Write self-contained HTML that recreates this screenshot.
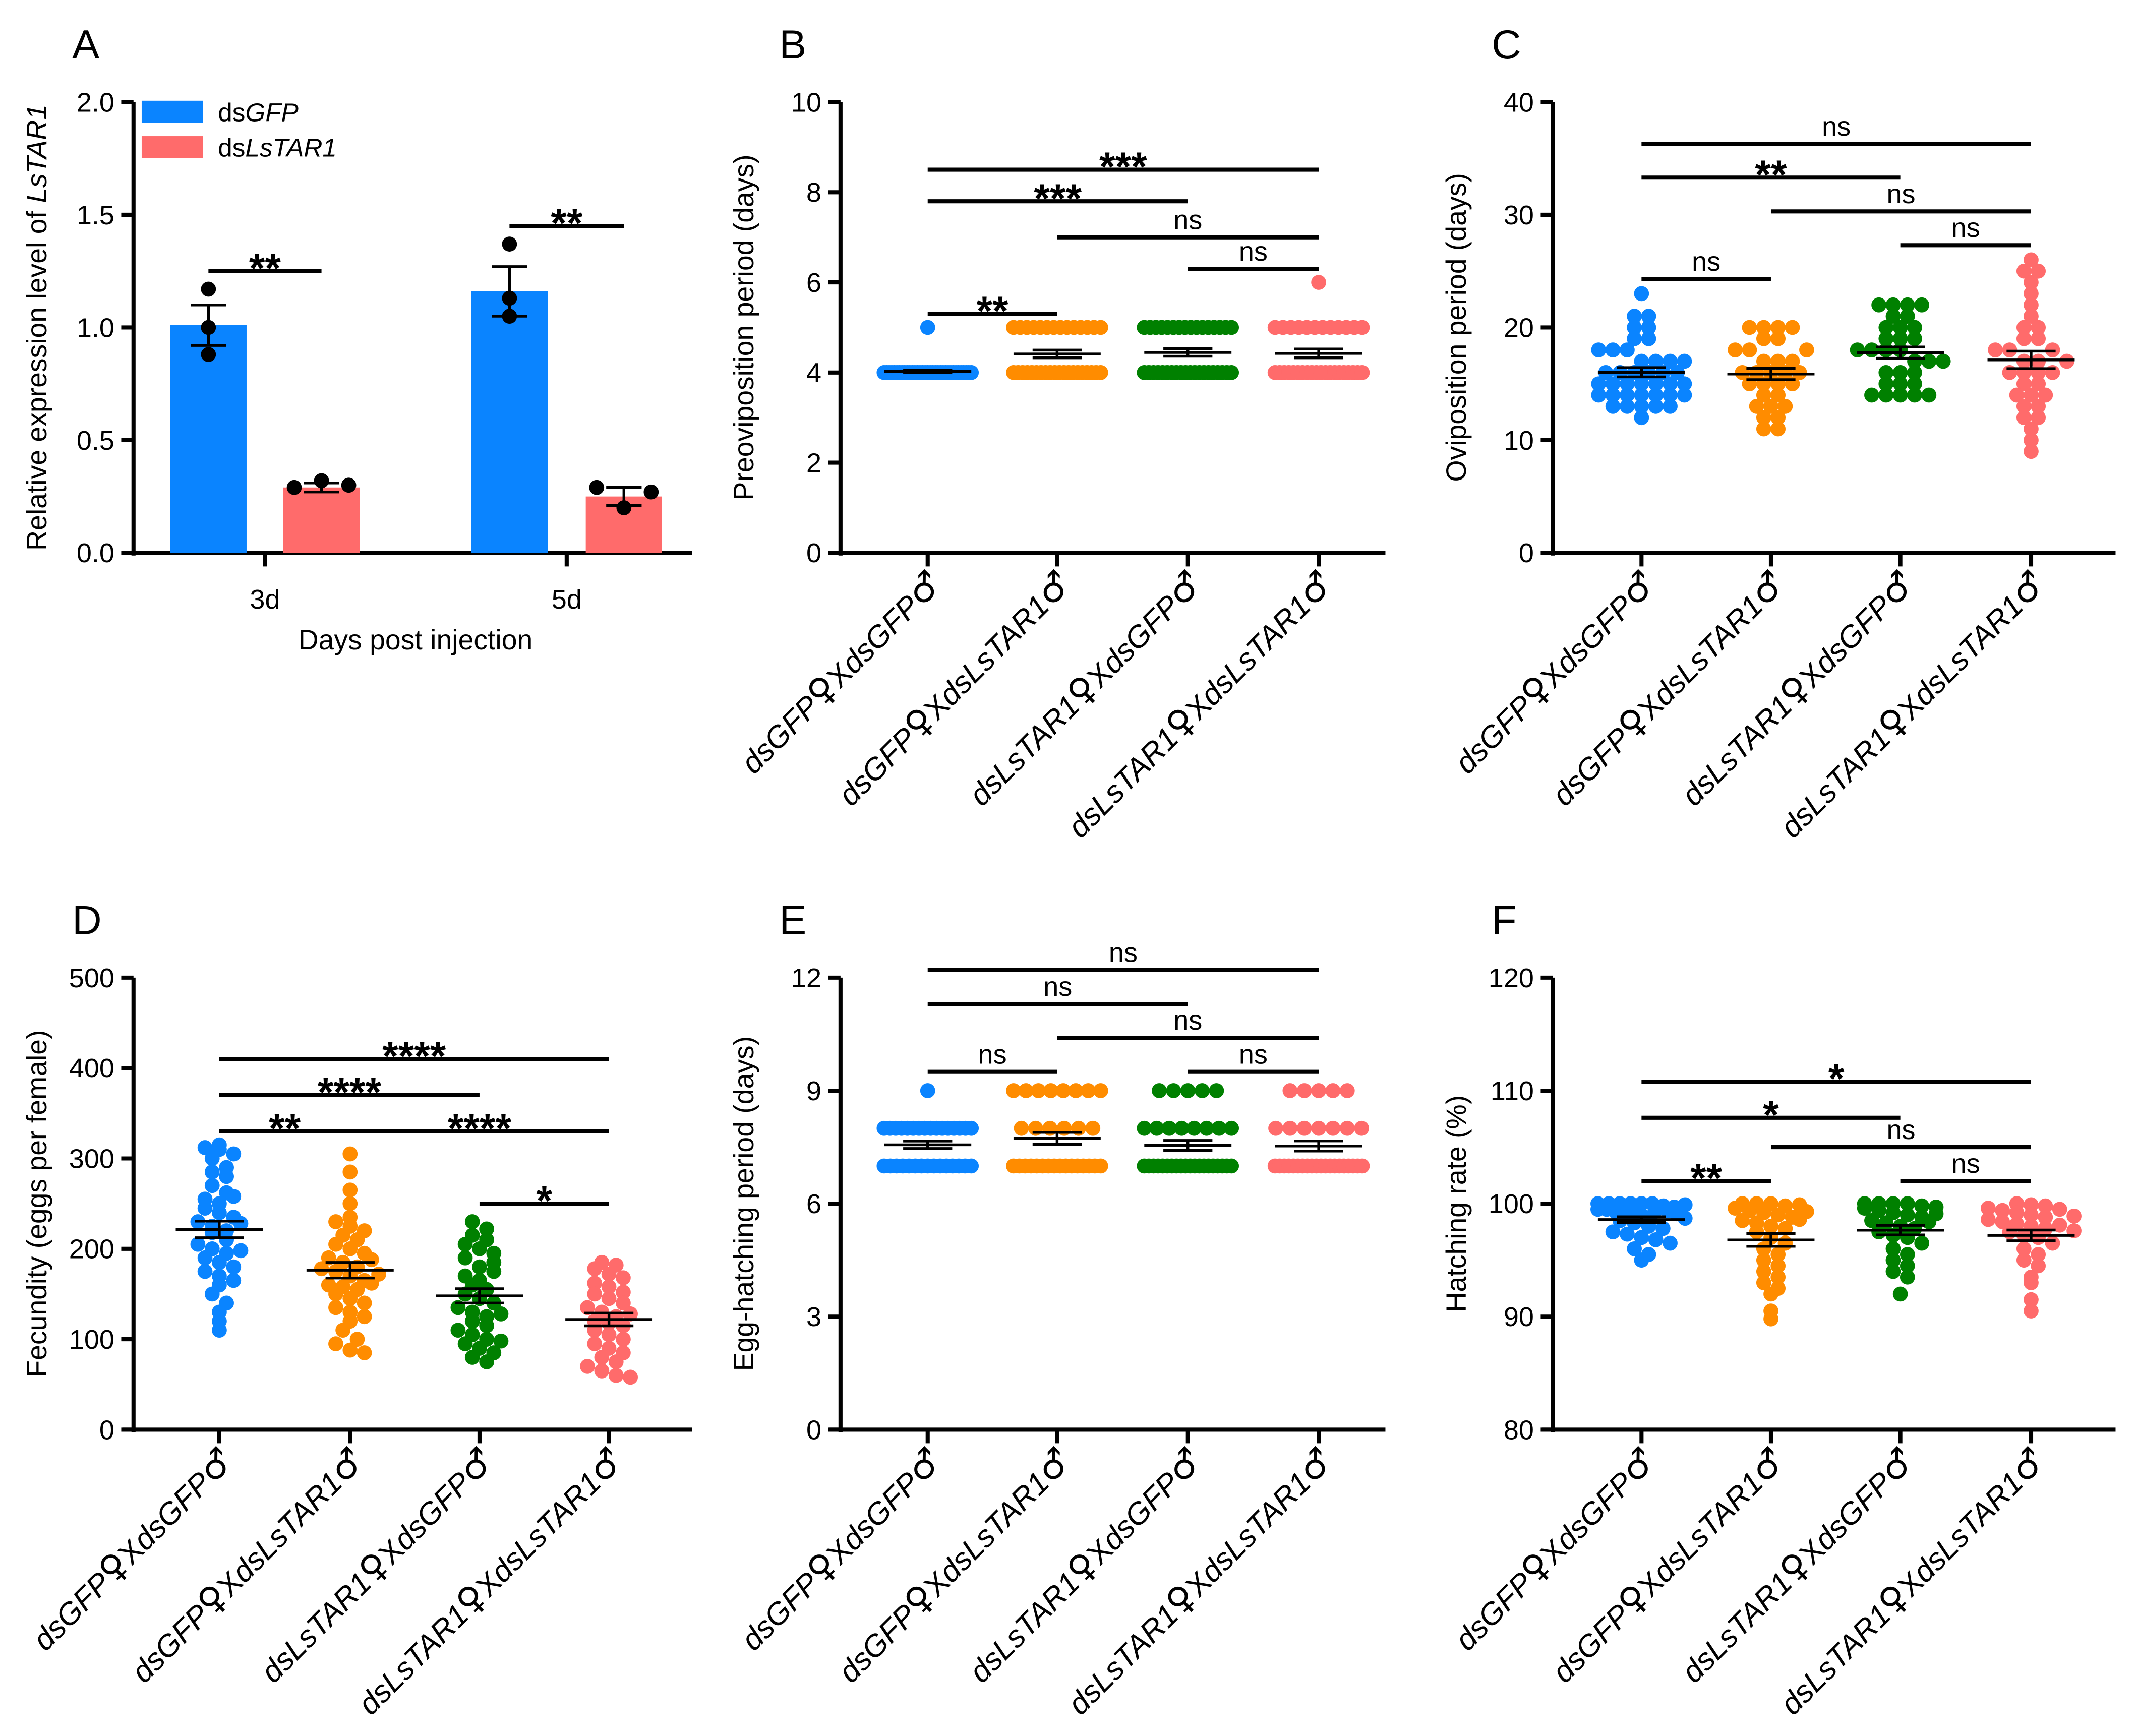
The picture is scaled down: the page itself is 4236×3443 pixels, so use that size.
<!DOCTYPE html>
<html><head><meta charset="utf-8"><style>html,body{margin:0;padding:0;background:#fff}svg{display:block}text{font-family:"Liberation Sans",Arial,sans-serif;fill:#000}</style></head>
<body>
<svg id="fig" xmlns="http://www.w3.org/2000/svg" width="4236" height="3443" viewBox="0 0 1568 1275" preserveAspectRatio="none"></svg>
<script>
// ---- Data ----
const catsA = ["3d","5d"];
const gfpMeans = [1.01,1.16];
const gfpSem = [0.09,0.11];
const tarMeans = [0.29,0.25];
const tarSem = [0.02,0.04];
const gfpPts = [[1.17,0.88,1.0],[1.37,1.05,1.13]];
const tarPts = [[0.29,0.32,0.30],[0.29,0.20,0.27]];

const groups = ["g1","g2","g3","g4"];
const colors = ["#0a84ff","#ff8c00","#008000","#ff6b6b"];
const preovi = [
 [5].concat(Array(35).fill(4)),
 Array(20).fill(4).concat(Array(14).fill(5)),
 Array(20).fill(4).concat(Array(16).fill(5)),
 Array(20).fill(4).concat(Array(12).fill(5)).concat([6])
];
const ovi = [
 [23,21,21,20,20,19,19,18,18,18,17,17,17,16,16,16,16,16,15,15,15,15,15,15,14,14,14,14,14,14,13,13,13,13,13,12,16,17,15,14],
 [20,20,20,20,19,19,18,18,17,17,16,16,16,16,15,15,15,15,14,14,13,13,13,12,12,11,11,16,17,18],
 [22,22,22,22,21,21,20,20,19,19,18,18,18,18,17,17,17,16,16,16,15,15,15,14,14,14,14,14,19,20],
 [26,25,25,24,23,22,21,20,20,19,19,18,18,17,17,16,16,16,15,15,14,14,14,13,13,12,12,11,10,9,18,17,16]
];
const fec = [
 [315,312,310,305,300,290,285,280,270,262,255,250,245,240,235,230,225,220,218,210,205,200,195,190,185,180,175,170,165,160,150,140,130,120,110,258,228,198],
 [305,285,265,250,235,230,225,220,215,210,205,200,195,190,185,180,178,175,170,165,160,158,155,150,145,140,135,130,125,120,110,100,95,88,85,188,172,162],
 [230,222,215,210,205,200,195,190,180,170,165,160,155,150,145,140,135,130,125,120,110,105,100,95,90,85,80,75,185,175,128,115,98],
 [185,182,178,172,168,162,158,150,145,140,135,130,125,120,118,115,110,105,100,95,90,85,80,75,70,65,60,58,152,128]
];
const egg = [
 Array(15).fill(7).concat(Array(16).fill(8)).concat([9]),
 Array(16).fill(7).concat(Array(6).fill(8)).concat(Array(8).fill(9)),
 Array(20).fill(7).concat(Array(8).fill(8)).concat(Array(5).fill(9)),
 Array(20).fill(7).concat(Array(7).fill(8)).concat(Array(5).fill(9))
];
const hatch = [
 [100,100,100,100,100,100,99.8,99.7,99.5,99.5,99.3,99.2,99,99,98.8,98.5,98.3,98,97.8,97.5,97.3,97,96.8,96.5,96,95.5,95,99.6,99.4,99.9,99.1,98.7],
 [100,100,100,99.8,99.6,99.4,99.2,99,98.8,98.5,98.3,98,97.8,97.5,97,96.5,96,95.5,95,94.5,94,93.5,93,92.5,92,90.5,89.8,99.9,99.3,98.6],
 [100,100,100,100,99.8,99.6,99.4,99.2,99,98.8,98.5,98.3,98,97.8,97.5,97.2,97,96.5,96,95.5,95,94.5,94,93.5,92,99.7,99.1,98.4],
 [100,99.9,99.8,99.6,99.4,99.2,99,98.8,98.6,98.4,98.2,98,97.8,97.5,97.2,97,96.5,96,95.5,95,94.5,93.5,93,91.5,90.5,99.5,98.9,98.1,97.6]
];
const sigB = [[0,1,5.3,"**"],[0,2,7.8,"***"],[0,3,8.5,"***"],[1,3,7.0,"ns"],[2,3,6.3,"ns"]];
const sigC = [[0,1,24.3,"ns"],[0,2,33.3,"**"],[0,3,36.3,"ns"],[1,3,30.3,"ns"],[2,3,27.3,"ns"]];
const sigD = [[0,1,330,"**"],[0,2,370,"****"],[0,3,410,"****"],[1,3,330,"****"],[2,3,250,"*"]];
const sigE = [[0,1,9.5,"ns"],[0,2,11.3,"ns"],[0,3,12.2,"ns"],[1,3,10.4,"ns"],[2,3,9.5,"ns"]];
const sigF = [[0,1,102,"**"],[0,2,107.6,"*"],[0,3,110.8,"*"],[1,3,105,"ns"],[2,3,102,"ns"]];

// ---- Drawing ----
const NS="http://www.w3.org/2000/svg";
const svg=document.getElementById('fig');
function el(tag,attrs,parent){const e=document.createElementNS(NS,tag);for(const k in attrs)e.setAttribute(k,attrs[k]);(parent||svg).appendChild(e);return e;}
function txt(x,y,s,size,anchor,parent,extra){const t=el('text',Object.assign({x:x,y:y,'font-size':size,'text-anchor':anchor||'start'},extra||{}),parent);t.textContent=s;return t;}

function axes(p){
 const g=el('g',{});
 
 
 const y=v=>p.y0-(v-p.vmin)/(p.vmax-p.vmin)*(p.y0-p.y1);
 const t=txt(p.x0-45,p.y1-32,p.letter,30,'start',g);
 
 const ya=el('line',{x1:p.x0,y1:p.y1,x2:p.x0,y2:p.y0+2,stroke:'#000','stroke-width':3},g);
 
 const xa=el('line',{x1:p.x0-8,y1:p.y0,x2:p.xe,y2:p.y0,stroke:'#000','stroke-width':3},g);
 
 p.ticks.forEach(v=>{
  el('line',{x1:p.x0-9,y1:y(v),x2:p.x0,y2:y(v),stroke:'#000','stroke-width':3},g);
  const tl=txt(p.x0-14,y(v)+7,p.fmt?p.fmt(v):String(v),20,'end',g);
  
 });
 const cy=(p.y0+p.y1)/2;
 const yt=el('text',{x:0,y:0,'font-size':20.5,'text-anchor':'middle',transform:`translate(${p.x0-64},${cy}) rotate(-90)`},g);
 
 if(p.ytitleParts){p.ytitleParts.forEach(([s,it])=>{const ts=el('tspan',it?{'font-style':'italic'}:{},yt);ts.textContent=s;});}
 else yt.textContent=p.ytitle;
 return {g,y};
}
const labelParts=[[["dsGFP","♀","X","dsGFP","♂"]],[["dsGFP","♀","X","dsLsTAR1","♂"]],[["dsLsTAR1","♀","X","dsGFP","♂"]],[["dsLsTAR1","♀","X","dsLsTAR1","♂"]]];
function catLabels(g,xs,y0){
 xs.forEach((x,i)=>{
  el('line',{x1:x,y1:y0,x2:x,y2:y0+10,stroke:'#000','stroke-width':3},g);
  const t=el('text',{x:0,y:0,'font-size':22.5,'text-anchor':'end','font-style':'italic',transform:`translate(${x+12},${y0+24}) rotate(-45)`},g);
  
  labelParts[i][0].forEach(s=>{const ts=el('tspan',(s==='♀'||s==='♂')?{'font-style':'normal','font-family':'DejaVu Sans','font-size':26}:(s==='X'?{'font-style':'normal'}:{}),t);ts.textContent=s;});
 });
}
function sig(g,xs,y,list){
 list.forEach(([a,b,v,l])=>{
  const ln=el('line',{x1:xs[a],y1:y(v),x2:xs[b],y2:y(v),stroke:'#000','stroke-width':3},g);
  
  const isns=l==='ns';
  const t=txt((xs[a]+xs[b])/2,y(v)+(isns?-6:8),l,isns?20:30,'middle',g,isns?{}:{'font-weight':'bold'});
  
 });
}
function swarm(g,xs,y,data,binPx){
 data.forEach((vals,gi)=>{
  const bins={};
  vals.forEach(v=>{const k=Math.round(y(v)/binPx);(bins[k]=bins[k]||[]).push(v);});
  Object.keys(bins).forEach(k=>{
   const arr=bins[k];const n=arr.length;
   const sp=n>1?Math.min(10.5,64/(n-1)):0;
   arr.forEach((v,j)=>{
    const c=el('circle',{cx:xs[gi]+(j-(n-1)/2)*sp,cy:y(v),r:5.5,fill:colors[gi]},g);
    
   });
  });
  const m=vals.reduce((a,b)=>a+b,0)/vals.length;
  const sd=Math.sqrt(vals.reduce((a,b)=>a+(b-m)*(b-m),0)/(vals.length-1));
  const se=sd/Math.sqrt(vals.length);
  const x=xs[gi];
  const ml=el('line',{x1:x-32,y1:y(m),x2:x+32,y2:y(m),stroke:'#000','stroke-width':2},g);
  
  el('line',{x1:x-18,y1:y(m+se),x2:x+18,y2:y(m+se),stroke:'#000','stroke-width':2},g);
  el('line',{x1:x-18,y1:y(m-se),x2:x+18,y2:y(m-se),stroke:'#000','stroke-width':2},g);
  el('line',{x1:x,y1:y(m+se),x2:x,y2:y(m-se),stroke:'#000','stroke-width':2},g);
 });
}

// Panel A
(function(){
 const p={letter:'A',x0:98,y0:406,y1:75,xe:508,vmin:0,vmax:2,ticks:[0,0.5,1,1.5,2],fmt:v=>v.toFixed(1),ytitleParts:[["Relative expression level of ",false],["LsTAR1",true]]};
 const {g,y}=axes(p);
 const gx=[153,374],tx=[236,458],bw=56;
 catsA.forEach((c,i)=>{
  const b1=el('rect',{x:gx[i]-bw/2,y:y(gfpMeans[i]),width:bw,height:y(0)-y(gfpMeans[i]),fill:'#0a84ff'},g);
  
  const b2=el('rect',{x:tx[i]-bw/2,y:y(tarMeans[i]),width:bw,height:y(0)-y(tarMeans[i]),fill:'#ff6b6b'},g);
  
  [[gx[i],gfpMeans[i],gfpSem[i],gfpPts[i],[0,0,0]],[tx[i],tarMeans[i],tarSem[i],tarPts[i],[-20,0,20]]].forEach(([x,m,s,pts,off])=>{
   el('line',{x1:x,y1:y(m+s),x2:x,y2:y(m-s),stroke:'#000','stroke-width':2},g);
   el('line',{x1:x-13,y1:y(m+s),x2:x+13,y2:y(m+s),stroke:'#000','stroke-width':2},g);
   el('line',{x1:x-13,y1:y(m-s),x2:x+13,y2:y(m-s),stroke:'#000','stroke-width':2},g);
   pts.forEach((v,j)=>{const c=el('circle',{cx:x+off[j],cy:y(v),r:5.5,fill:'#000'},g);});
  });
  el('line',{x1:(gx[i]+tx[i])/2,y1:p.y0,x2:(gx[i]+tx[i])/2,y2:p.y0+10,stroke:'#000','stroke-width':3},g);
  const cl=txt((gx[i]+tx[i])/2,p.y0+41,c,20,'middle',g);
 });
 sig(g,[gx[0],tx[0]],y,[[0,1,1.25,"**"]]);
 sig(g,[gx[1],tx[1]],y,[[0,1,1.45,"**"]]);
 const xt=txt(305,477,'Days post injection',20.5,'middle',g);
 const l1=el('rect',{x:104,y:74,width:45,height:16,fill:'#0a84ff'},g);
 const l2=el('rect',{x:104,y:100,width:45,height:16,fill:'#ff6b6b'},g);
 const t1=el('text',{x:160,y:89,'font-size':19},g);
 el('tspan',{},t1).textContent='ds';el('tspan',{'font-style':'italic'},t1).textContent='GFP';
 const t2=el('text',{x:160,y:115,'font-size':19},g);
 el('tspan',{},t2).textContent='ds';el('tspan',{'font-style':'italic'},t2).textContent='LsTAR1';
})();

const xsL=[161,257,352,447],xsM=[681,776,872,968],xsR=[1205,1300,1395,1491];
function scatterPanel(p,xs,data,sigs,bin){const {g,y}=axes(p);catLabels(g,xs,p.y0);swarm(g,xs,y,data,bin);sig(g,xs,y,sigs);}
scatterPanel({letter:'B',x0:617,y0:406,y1:75,xe:1017,vmin:0,vmax:10,ticks:[0,2,4,6,8,10],ytitle:'Preoviposition period (days)'},xsM,preovi,sigB,9);
scatterPanel({letter:'C',x0:1140,y0:406,y1:75,xe:1553,vmin:0,vmax:40,ticks:[0,10,20,30,40],ytitle:'Oviposition period (days)'},xsR,ovi,sigC,9);
scatterPanel({letter:'D',x0:98,y0:1050,y1:718,xe:508,vmin:0,vmax:500,ticks:[0,100,200,300,400,500],ytitle:'Fecundity (eggs per female)'},xsL,fec,sigD,9);
scatterPanel({letter:'E',x0:617,y0:1050,y1:718,xe:1017,vmin:0,vmax:12,ticks:[0,3,6,9,12],ytitle:'Egg-hatching period (days)'},xsM,egg,sigE,9);
scatterPanel({letter:'F',x0:1140,y0:1050,y1:718,xe:1553,vmin:80,vmax:120,ticks:[80,90,100,110,120],ytitle:'Hatching rate (%)'},xsR,hatch,sigF,9);
</script>
</body></html>
